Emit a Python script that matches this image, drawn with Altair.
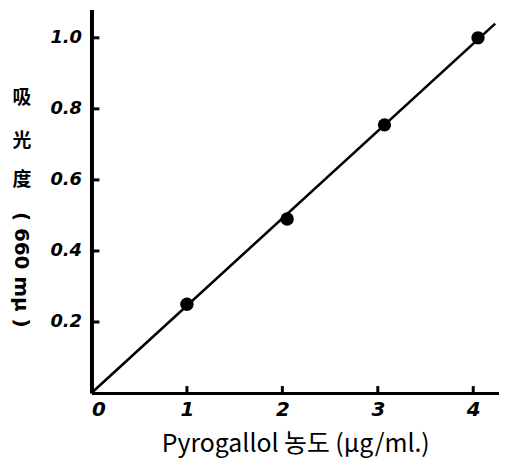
import altair as alt
import pandas as pd

# data
conc = [1.0, 2.05, 3.07, 4.05]          # Pyrogallol concentration (ug/ml)
absorb = [0.25, 0.49, 0.755, 1.0]       # absorbance at 660 mu
fit_x = [0.0, 4.23]
fit_y = [0.0, 1.04]
x_ticks = [0, 1, 2, 3, 4]
y_ticks = [0.2, 0.4, 0.6, 0.8, 1.0]
y_title_chars = ["吸", "光", "度"]
y_title_rest = "( 660 mμ )"
x_title = "Pyrogallol 농도 (μg/ml.)"

W, H = 410, 386
xs = alt.Scale(domain=[0, 4.27], nice=False, zero=False)
ys = alt.Scale(domain=[0, 1.08], nice=False, zero=False)

pts_df = pd.DataFrame({"x": conc, "y": absorb})
fit_df = pd.DataFrame({"x": fit_x, "y": fit_y})

label_font = "DejaVu Sans"

line = alt.Chart(fit_df).mark_line(color="black", strokeWidth=2.6).encode(
    x=alt.X("x:Q", scale=xs, axis=alt.Axis(
        values=x_ticks, format="d", title=x_title, grid=False, ticks=False,
        domainColor="black", domainWidth=3, labelFont=label_font,
        labelFontWeight="bold", labelFontStyle="italic", labelFontSize=20,
        labelColor="black", labelPadding=7, titleFont="Noto Sans CJK KR",
        titleFontSize=25, titleFontWeight="normal", titleColor="black",
        titlePadding=12)),
    y=alt.Y("y:Q", scale=ys, axis=alt.Axis(
        values=y_ticks, format=".1f", title=None, grid=False, ticks=False,
        domainColor="black", domainWidth=4, labelFont=label_font,
        labelFontWeight="bold", labelFontStyle="italic", labelFontSize=18,
        labelColor="black", labelPadding=10)),
)

pts = alt.Chart(pts_df).mark_circle(size=180, color="black", opacity=1).encode(
    x=alt.X("x:Q", scale=xs), y=alt.Y("y:Q", scale=ys))

ytick_rules = alt.Chart(pd.DataFrame({"y": y_ticks})).mark_rule(
    color="black", strokeWidth=3).encode(
    y=alt.Y("y:Q", scale=ys), x=alt.value(0), x2=alt.value(8))

xtick_rules = alt.Chart(pd.DataFrame({"x": x_ticks[1:]})).mark_rule(
    color="black", strokeWidth=3).encode(
    x=alt.X("x:Q", scale=xs), y=alt.value(H), y2=alt.value(H - 7))

char_df = pd.DataFrame({"t": y_title_chars, "py": [89, 132, 172]})
chars = alt.Chart(char_df).mark_text(
    font="Noto Sans CJK SC", fontSize=19, fontWeight="bold", color="black").encode(
    text="t:N", y=alt.Y("py:Q", scale=None), x=alt.value(-70))

rest = alt.Chart(pd.DataFrame({"t": [y_title_rest]})).mark_text(
    font=label_font, fontSize=20, fontWeight="bold", angle=90, color="black").encode(
    text="t:N", x=alt.value(-71), y=alt.value(262))

chart = alt.layer(line, xtick_rules, ytick_rules, pts, chars, rest).properties(
    width=W, height=H,
    autosize=alt.AutoSizeParams(type="none"),
    padding={"left": 84, "top": 0, "right": 0, "bottom": 72},
).configure_view(stroke=None)

chart.save("out.html", embed_options={"renderer": "svg", "actions": False})
